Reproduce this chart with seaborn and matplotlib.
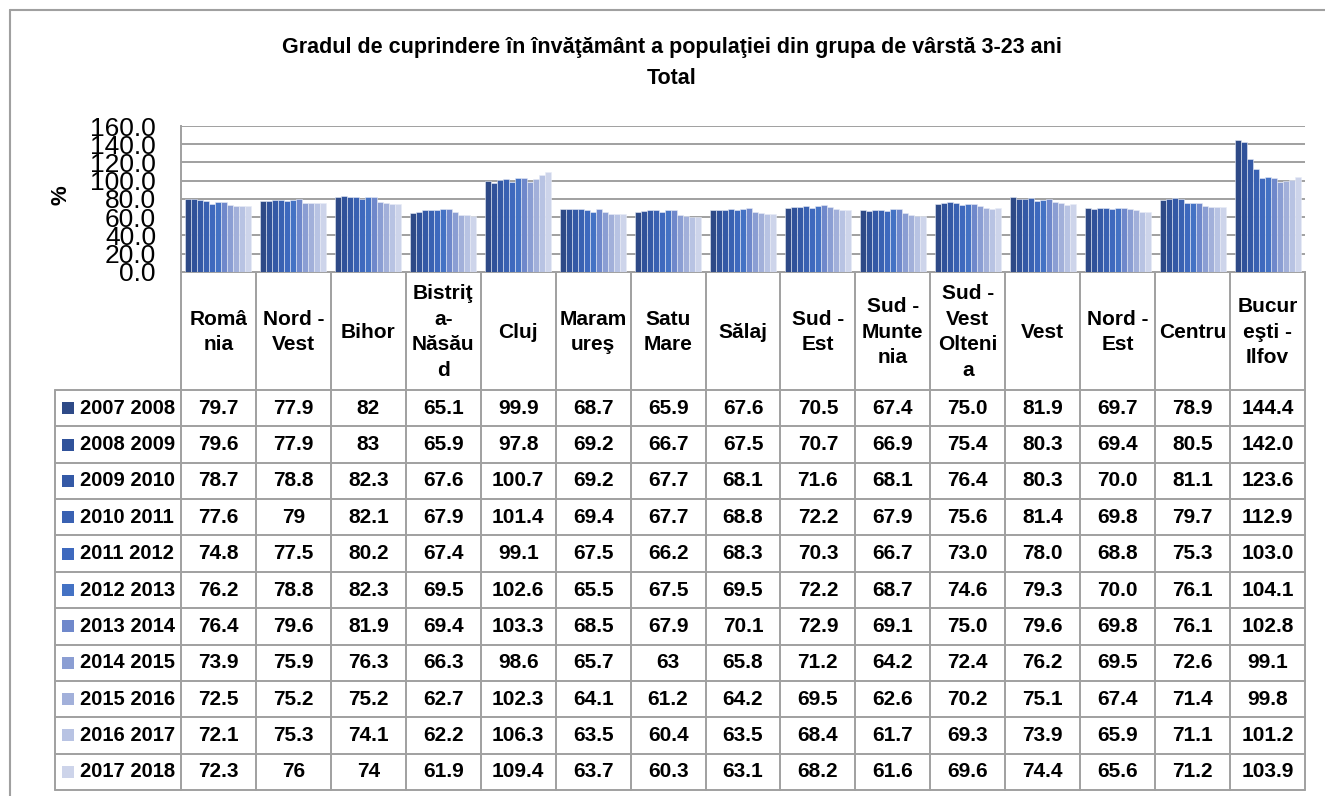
import pandas as pd
import matplotlib.pyplot as plt
import seaborn as sns
from matplotlib.lines import Line2D
from matplotlib.patches import Rectangle
from matplotlib.transforms import blended_transform_factory

# regions (header labels as they are wrapped in the table)
regions = ["Româ\nnia", "Nord -\nVest", "Bihor", "Bistriţ\na-\nNăsău\nd", "Cluj",
           "Maram\nureş", "Satu\nMare", "Sălaj", "Sud -\nEst", "Sud -\nMunte\nnia",
           "Sud -\nVest\nOlteni\na", "Vest", "Nord -\nEst", "Centru", "Bucur\neşti -\nIlfov"]

years = ["2007 2008", "2008 2009", "2009 2010", "2010 2011", "2011 2012", "2012 2013",
         "2013 2014", "2014 2015", "2015 2016", "2016 2017", "2017 2018"]

# values as printed in the data table
v2007 = ["79.7", "77.9", "82", "65.1", "99.9", "68.7", "65.9", "67.6", "70.5", "67.4", "75.0", "81.9", "69.7", "78.9", "144.4"]
v2008 = ["79.6", "77.9", "83", "65.9", "97.8", "69.2", "66.7", "67.5", "70.7", "66.9", "75.4", "80.3", "69.4", "80.5", "142.0"]
v2009 = ["78.7", "78.8", "82.3", "67.6", "100.7", "69.2", "67.7", "68.1", "71.6", "68.1", "76.4", "80.3", "70.0", "81.1", "123.6"]
v2010 = ["77.6", "79", "82.1", "67.9", "101.4", "69.4", "67.7", "68.8", "72.2", "67.9", "75.6", "81.4", "69.8", "79.7", "112.9"]
v2011 = ["74.8", "77.5", "80.2", "67.4", "99.1", "67.5", "66.2", "68.3", "70.3", "66.7", "73.0", "78.0", "68.8", "75.3", "103.0"]
v2012 = ["76.2", "78.8", "82.3", "69.5", "102.6", "65.5", "67.5", "69.5", "72.2", "68.7", "74.6", "79.3", "70.0", "76.1", "104.1"]
v2013 = ["76.4", "79.6", "81.9", "69.4", "103.3", "68.5", "67.9", "70.1", "72.9", "69.1", "75.0", "79.6", "69.8", "76.1", "102.8"]
v2014 = ["73.9", "75.9", "76.3", "66.3", "98.6", "65.7", "63", "65.8", "71.2", "64.2", "72.4", "76.2", "69.5", "72.6", "99.1"]
v2015 = ["72.5", "75.2", "75.2", "62.7", "102.3", "64.1", "61.2", "64.2", "69.5", "62.6", "70.2", "75.1", "67.4", "71.4", "99.8"]
v2016 = ["72.1", "75.3", "74.1", "62.2", "106.3", "63.5", "60.4", "63.5", "68.4", "61.7", "69.3", "73.9", "65.9", "71.1", "101.2"]
v2017 = ["72.3", "76", "74", "61.9", "109.4", "63.7", "60.3", "63.1", "68.2", "61.6", "69.6", "74.4", "65.6", "71.2", "103.9"]
table_rows = [v2007, v2008, v2009, v2010, v2011, v2012, v2013, v2014, v2015, v2016, v2017]

colors = ["#2E4A87", "#30529A", "#3459A6", "#3961B2", "#3E69BE", "#4472C4",
          "#6F88CB", "#8B9ED3", "#A2B0DA", "#B8C3E3", "#CDD4EA"]

# long format for seaborn
rows = []
for y, vals in zip(years, table_rows):
    for r, v in zip(regions, vals):
        rows.append({"region": r, "year": y, "value": float(v)})
df = pd.DataFrame(rows)

sns.set_style("white")
plt.rcParams["font.family"] = ["Liberation Sans", "DejaVu Sans"]
plt.rcParams["text.color"] = "black"

W, H = 1325, 796
fig = plt.figure(figsize=(W / 100, H / 100), dpi=100)
ax = fig.add_axes([181 / W, 1 - 272 / H, (1305 - 181) / W, (272 - 126) / H])

sns.barplot(data=df, x="region", y="value", hue="year", palette=colors, order=regions,
            hue_order=years, width=0.88, gap=0, saturation=1, legend=False,
            edgecolor="#E8ECF6", linewidth=0.4, ax=ax, zorder=3)

ax.set_ylim(0, 160)
ax.set_xlim(-0.5, len(regions) - 0.5)
ax.set_yticks(range(0, 161, 20))
ax.set_yticklabels([f"{t:.1f}" for t in range(0, 161, 20)], fontsize=19, color="black")
ax.tick_params(axis="y", length=0, pad=18)
ax.set_xticks([])
ax.set_xlabel("")
ax.set_ylabel("")
ax.grid(axis="y", color="#A0A0A0", linewidth=1.4, zorder=0)
for s in ["top", "right"]:
    ax.spines[s].set_visible(False)
ax.spines["left"].set_color("#A0A0A0")
ax.spines["left"].set_linewidth(1.4)
ax.spines["bottom"].set_color("#A0A0A0")
ax.spines["bottom"].set_linewidth(1.4)

# overlay in pixel coordinates for the table and frame
ov = fig.add_axes([0, 0, 1, 1], zorder=-1)
ov.set_xlim(0, W)
ov.set_ylim(H, 0)
ov.axis("off")
tr = blended_transform_factory(ax.transData, ov.transData)

lc = "#A0A0A0"
# outer chart frame
ov.add_line(Line2D([10, 10], [10, H], color=lc, lw=1.5))
ov.add_line(Line2D([10, W], [10, 10], color=lc, lw=1.5))

fig.text(0.507, 1 - 47 / H, "Gradul de cuprindere în învăţământ a populaţiei din grupa de vârstă 3-23 ani",
         ha="center", va="center", fontsize=15.5, fontweight="bold")
fig.text(0.507, 1 - 78 / H, "Total", ha="center", va="center", fontsize=15.5, fontweight="bold")
fig.text(61 / W, 1 - 195 / H, "%", ha="center", va="center", rotation=90, fontsize=16, fontweight="bold")

head_top, head_bot, tab_bot = 272, 390, 790
row_h = (tab_bot - head_bot) / len(years)
n = len(regions)

# vertical lines
for i in range(n + 1):
    ov.add_line(Line2D([i - 0.5, i - 0.5], [head_top, tab_bot], color=lc, lw=1.4,
                       transform=tr, clip_on=False))
ov.add_line(Line2D([55, 55], [head_bot, tab_bot], color=lc, lw=1.4))
# horizontal lines
for k in range(len(years) + 1):
    yy = head_bot + k * row_h
    ov.add_line(Line2D([55, 1305], [yy, yy], color=lc, lw=1.4))

# header labels
for i, r in enumerate(regions):
    ov.text(i, (head_top + head_bot) / 2 + 1, r, transform=tr, ha="center", va="center",
            fontsize=15, fontweight="bold", linespacing=1.45, clip_on=False)

# data rows
for k, (y, vals) in enumerate(zip(years, table_rows)):
    yc = head_bot + (k + 0.5) * row_h
    ov.add_patch(Rectangle((62, yc - 6), 12, 12, color=colors[k], lw=0))
    ov.text(80, yc, y, ha="left", va="center", fontsize=14.5, fontweight="bold")
    for i, v in enumerate(vals):
        ov.text(i, yc, v, transform=tr, ha="center", va="center", fontsize=15,
                fontweight="bold", clip_on=False)

plt.savefig("out.png", dpi=100)
